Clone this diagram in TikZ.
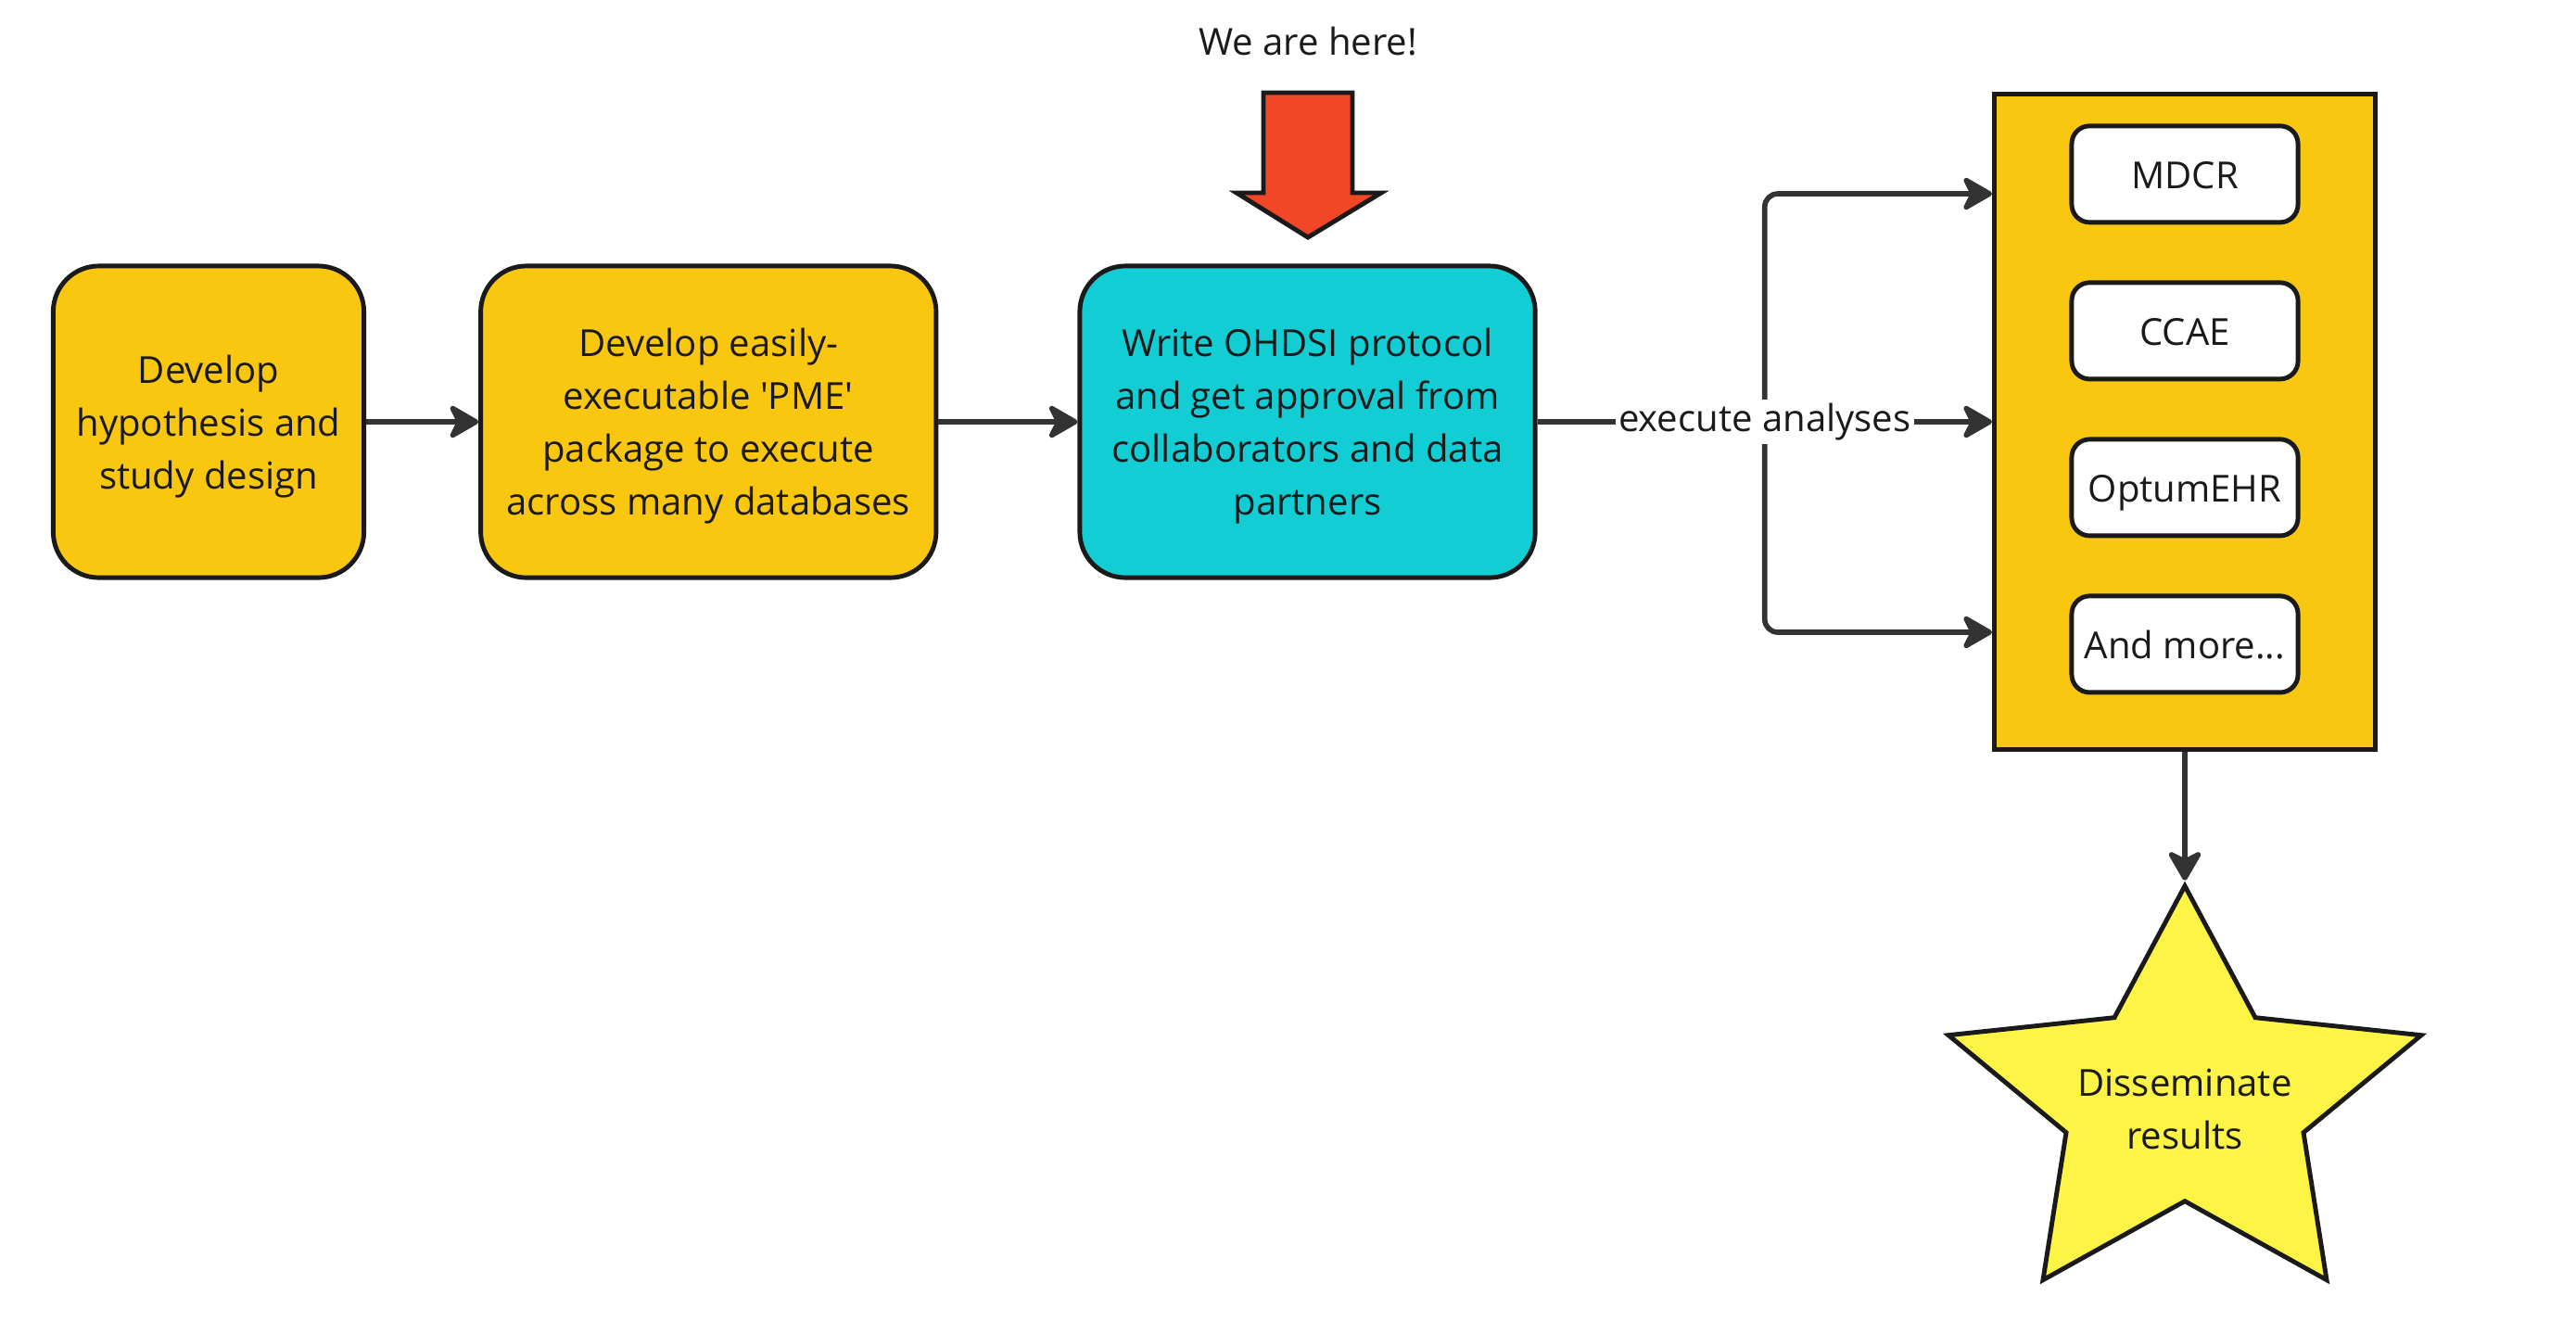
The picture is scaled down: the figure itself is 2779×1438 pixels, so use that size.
\documentclass[tikz,border=0pt]{standalone}
\usepackage{fontspec}
\setmainfont{Open Sans}
\usetikzlibrary{arrows.meta,positioning,calc}
\definecolor{ink}{HTML}{1A1A1A}
\definecolor{wire}{HTML}{333333}
\definecolor{stepyellow}{HTML}{FAC710}
\definecolor{protocolcyan}{HTML}{12CDD4}
\definecolor{pointerred}{HTML}{F24726}
\definecolor{staryellow}{HTML}{FEF445}

\begin{document}
\begin{tikzpicture}[x=0.01cm, y=-0.01cm, >={Stealth[length=10.5pt,width=12pt,inset=3pt,round]},
  every node/.style={font=\fontsize{11.4}{16.2}\selectfont, text=ink},
  stage/.style={draw=ink, line width=1.4pt, fill=stepyellow, rounded corners=14pt, minimum height=3.36cm, align=center, inner sep=0pt, text depth=-0.6pt},
  dbbox/.style={draw=ink, line width=1.4pt, fill=white, rounded corners=5.5pt, minimum width=2.44cm, minimum height=1.04cm, inner sep=0pt, text height=12.2pt, text depth=3.3pt},
  link/.style={->, draw=wire, line width=1.6pt}]
\useasboundingbox (0,0) rectangle (2779,1438);

\node[stage, minimum width=3.35cm]   (hyp) at (225,455) {Develop\\hypothesis and\\study design};
\node[stage, minimum width=4.91cm]  (pme) [right=1.21cm of hyp] {Develop easily-\\executable \textquotesingle PME\textquotesingle\\package to execute\\across many databases};
\node[stage, minimum width=4.91cm, fill=protocolcyan] (protocol) [right=1.5cm of pme] {Write OHDSI protocol\\and get approval from\\collaborators and data\\partners};

\node[draw=ink, line width=1.4pt, fill=stepyellow, minimum width=4.11cm, minimum height=7.06cm] (dbs) [right=4.9cm of protocol] {};
\node[dbbox]    (mdcr) [below=0.34cm of dbs.north] {MDCR};
\node[dbbox]    (ccae) [below=0.6cm of mdcr] {CCAE};
\node[dbbox]    (optum) [below=0.6cm of ccae] {OptumEHR};
\node[dbbox]    (more) [below=0.6cm of optum] {And more...};

% we are here
\draw[ink, line width=1.4pt, fill=pointerred] (1363,100) -- (1459,100) -- (1459,208) -- (1490,208) -- (1411,256) -- (1334,208) -- (1363,208) -- cycle;
\node[text height=12.2pt, text depth=3.3pt] (here) at (1411,44) {We are here!};

% result star
\begin{scope}[shift={(dbs.south)}]
\draw[ink, line width=1.4pt, fill=staryellow] (0,145) -- (76,287) -- (255,306) -- (128,411) -- (153,570) -- (0,485) -- (-153,570) -- (-128,411) -- (-255,306) -- (-76,287) -- cycle;
\node[align=center] (result) at (0,386) {Disseminate\\results};
\coordinate (starTip) at (0,139);
\end{scope}

\coordinate (split) at ($(protocol.east)!0.5!(dbs.west)$);
\coordinate (inTop) at (dbs.west |- 0,209);
\coordinate (inBottom) at (dbs.west |- 0,682);

\path
(hyp) edge[link]    (pme)
(pme) edge[link]    (protocol);
\draw[link, rounded corners=4pt] (split) |- (inTop);
\draw[link, rounded corners=4pt] (split) |- (inBottom);
\draw[link] (protocol.east) -- node[fill=white, inner sep=1pt] {execute analyses} (dbs.west);
\draw[link] (dbs.south) -- (starTip);
\end{tikzpicture}
\end{document}
